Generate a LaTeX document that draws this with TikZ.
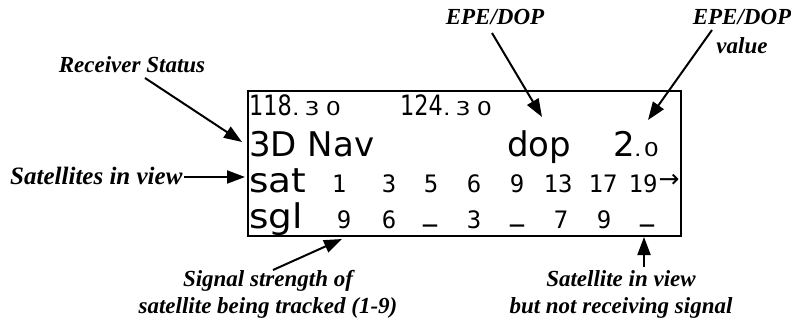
\documentclass[tikz,border=0pt]{standalone}
\usepackage{fontspec}
\setmainfont{Liberation Serif}
\newfontfamily\lcdn{DejaVu Sans}
\newfontfamily\lcdc[FakeStretch=0.8]{DejaVu Sans}
\newfontfamily\lcd[FakeStretch=1.1]{DejaVu Sans}
\newfontfamily\lcdsm[FakeStretch=1.25]{DejaVu Sans}
\newfontfamily\lcdnum[FakeStretch=1.0]{DejaVu Sans Mono}
\usetikzlibrary{arrows.meta}
\begin{document}
\begin{tikzpicture}[x=1pt,y=-1pt,
  lbl/.style={font=\fontsize{23}{27}\selectfont\bfseries\itshape, inner sep=0pt, align=center, text=black},
  conn/.style={line width=2pt, -{Triangle[length=18pt,width=13pt]}},
  lcdA/.style={font=\lcdc\fontsize{28}{28}\selectfont, inner sep=0pt, anchor=base west},
  lcdB/.style={font=\lcdn\fontsize{34}{34}\selectfont, inner sep=0pt, anchor=base west},
  lcdS/.style={font=\lcdsm\fontsize{19}{19}\selectfont, inner sep=0pt, anchor=base west},
  lcdL/.style={font=\lcd\fontsize{34}{34}\selectfont, inner sep=0pt, anchor=base west},
  num/.style={font=\lcdnum\fontsize{24}{24}\selectfont, inner sep=0pt, anchor=base},
  uscore/.style={num, font=\lcdnum\fontsize{24}{24}\selectfont\bfseries},
  screenbox/.style={draw, line width=2pt, inner sep=0pt, minimum width=433pt, minimum height=145pt, anchor=north west}
]
\useasboundingbox (0,0) rectangle (791,320);

% screen
\node[screenbox] (screen) at (247,90) {};

% row 1
\node[lcdA] (f1) at (249,116) {118};
\node[lcdS] (f1d) at (292,116) {.\kern5pt 3\kern6pt 0};
\node[lcdA] (f2) at (400,116) {124};
\node[lcdS] (f2d) at (443,116) {.\kern5pt 3\kern6pt 0};

% row 2
\node[lcdB] (nav) at (249,157) {3D Nav};
\node[lcdB] (dop) at (507,157) {dop};
\node[lcdB] (dopv) at (613,157) {2};
\node[lcdS] (dopvd) at (634,157) {.\kern2pt 0};

% row 3
\node[lcdL] (sat) at (249,193) {sat};
\node[num] (s1) at (339,193) {1};
\node[num] (s2) at (389,193) {3};
\node[num] (s3) at (431,193) {5};
\node[num] (s4) at (474,193) {6};
\node[num] (s5) at (517,193) {9};
\node[num] (s6) at (558,193) {13};
\node[num] (s7) at (603,193) {17};
\node[num] (s8) at (643,193) {19};
\node[font=\lcdn\fontsize{25}{25}\selectfont, inner sep=0pt] (more) at (669,181) {→};

% row 4
\node[lcdL] (sgl) at (249,228) {sgl};
\node[num] (g1) at (344,228) {9};
\node[num] (g2) at (389,228) {6};
\node[uscore] (g3) at (430,221) {\_};
\node[num] (g4) at (474,228) {3};
\node[uscore] (g5) at (517,221) {\_};
\node[num] (g6) at (561,228) {7};
\node[num] (g7) at (604,228) {9};
\node[uscore] (g8) at (647,221) {\_};

% labels
\node[lbl, anchor=base] (rs) at (132,73) {Receiver Status};
\node[lbl, anchor=base west, font=\fontsize{25}{27}\selectfont\bfseries\itshape] (siv) at (10,185) {Satellites in view};
\node[lbl, anchor=base] (epe) at (495,25) {EPE/DOP};
\node[lbl, anchor=north, font=\fontsize{23}{29}\selectfont\bfseries\itshape] (epev) at (742,9) {EPE/DOP\\value};
\node[lbl, anchor=north] (sig) at (268,270) {Signal strength of\\satellite being tracked (1-9)};
\node[lbl, anchor=north] (nrs) at (621,270) {Satellite in view\\but not receiving signal};

% connector ends
\coordinate (a1s) at (145,78);  \coordinate (a1e) at (242,142);
\coordinate (a2s) at (184,177); \coordinate (a2e) at (245,177);
\coordinate (a3s) at (492,33);  \coordinate (a3e) at (542,117);
\coordinate (a4s) at (712,30);  \coordinate (a4e) at (648,120);
\coordinate (a5s) at (273,270); \coordinate (a5e) at (342,239);
\coordinate (a6s) at (644,267); \coordinate (a6e) at (644,237);

\draw[conn] (a1s) -- (a1e);
\draw[conn] (a2s) -- (a2e);
\draw[conn] (a3s) -- (a3e);
\draw[conn] (a4s) -- (a4e);
\draw[conn] (a5s) -- (a5e);
\draw[conn] (a6s) -- (a6e);
\end{tikzpicture}
\end{document}
